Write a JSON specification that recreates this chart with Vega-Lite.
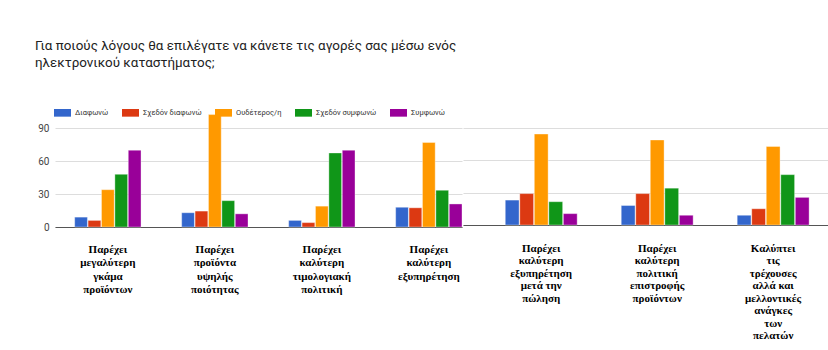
{
  "$schema": "https://vega.github.io/schema/vega-lite/v6.json",
  "padding": {"left": 0, "top": 38, "right": 0, "bottom": 0},
  "background": "white",
  "title": {
    "text": ["Για ποιούς λόγους θα επιλέγατε να κάνετε τις αγορές σας μέσω ενός", "ηλεκτρονικού καταστήματος;"],
    "anchor": "start", "frame": "group", "font": "Roboto", "fontSize": 13.4, "fontWeight": "normal",
    "color": "#222222", "lineHeight": 17, "offset": 35, "dx": -20
  },
  "datasets": {
    "left": [
      {"reason": "Παρέχει μεγαλύτερη γκάμα προϊόντων", "answer": "Διαφωνώ", "count": 9},
      {"reason": "Παρέχει μεγαλύτερη γκάμα προϊόντων", "answer": "Σχεδόν διαφωνώ", "count": 6},
      {"reason": "Παρέχει μεγαλύτερη γκάμα προϊόντων", "answer": "Ουδέτερος/η", "count": 34},
      {"reason": "Παρέχει μεγαλύτερη γκάμα προϊόντων", "answer": "Σχεδόν συμφωνώ", "count": 48},
      {"reason": "Παρέχει μεγαλύτερη γκάμα προϊόντων", "answer": "Συμφωνώ", "count": 70},
      {"reason": "Παρέχει προϊόντα υψηλής ποιότητας", "answer": "Διαφωνώ", "count": 13},
      {"reason": "Παρέχει προϊόντα υψηλής ποιότητας", "answer": "Σχεδόν διαφωνώ", "count": 14.5},
      {"reason": "Παρέχει προϊόντα υψηλής ποιότητας", "answer": "Ουδέτερος/η", "count": 102.5},
      {"reason": "Παρέχει προϊόντα υψηλής ποιότητας", "answer": "Σχεδόν συμφωνώ", "count": 24},
      {"reason": "Παρέχει προϊόντα υψηλής ποιότητας", "answer": "Συμφωνώ", "count": 12},
      {"reason": "Παρέχει καλύτερη τιμολογιακή πολιτική", "answer": "Διαφωνώ", "count": 6},
      {"reason": "Παρέχει καλύτερη τιμολογιακή πολιτική", "answer": "Σχεδόν διαφωνώ", "count": 4},
      {"reason": "Παρέχει καλύτερη τιμολογιακή πολιτική", "answer": "Ουδέτερος/η", "count": 19},
      {"reason": "Παρέχει καλύτερη τιμολογιακή πολιτική", "answer": "Σχεδόν συμφωνώ", "count": 67.5},
      {"reason": "Παρέχει καλύτερη τιμολογιακή πολιτική", "answer": "Συμφωνώ", "count": 70},
      {"reason": "Παρέχει καλύτερη εξυπηρέτηση", "answer": "Διαφωνώ", "count": 18},
      {"reason": "Παρέχει καλύτερη εξυπηρέτηση", "answer": "Σχεδόν διαφωνώ", "count": 17.5},
      {"reason": "Παρέχει καλύτερη εξυπηρέτηση", "answer": "Ουδέτερος/η", "count": 77},
      {"reason": "Παρέχει καλύτερη εξυπηρέτηση", "answer": "Σχεδόν συμφωνώ", "count": 33.5},
      {"reason": "Παρέχει καλύτερη εξυπηρέτηση", "answer": "Συμφωνώ", "count": 21}
    ],
    "right": [
      {"reason": "Παρέχει καλύτερη εξυπηρέτηση μετά την πώληση", "answer": "Διαφωνώ", "count": 23},
      {"reason": "Παρέχει καλύτερη εξυπηρέτηση μετά την πώληση", "answer": "Σχεδόν διαφωνώ", "count": 29},
      {"reason": "Παρέχει καλύτερη εξυπηρέτηση μετά την πώληση", "answer": "Ουδέτερος/η", "count": 84},
      {"reason": "Παρέχει καλύτερη εξυπηρέτηση μετά την πώληση", "answer": "Σχεδόν συμφωνώ", "count": 21.5},
      {"reason": "Παρέχει καλύτερη εξυπηρέτηση μετά την πώληση", "answer": "Συμφωνώ", "count": 10.5},
      {"reason": "Παρέχει καλύτερη πολιτική επιστροφής προϊόντων", "answer": "Διαφωνώ", "count": 18},
      {"reason": "Παρέχει καλύτερη πολιτική επιστροφής προϊόντων", "answer": "Σχεδόν διαφωνώ", "count": 29},
      {"reason": "Παρέχει καλύτερη πολιτική επιστροφής προϊόντων", "answer": "Ουδέτερος/η", "count": 78.5},
      {"reason": "Παρέχει καλύτερη πολιτική επιστροφής προϊόντων", "answer": "Σχεδόν συμφωνώ", "count": 34},
      {"reason": "Παρέχει καλύτερη πολιτική επιστροφής προϊόντων", "answer": "Συμφωνώ", "count": 9},
      {"reason": "Καλύπτει τις τρέχουσες αλλά και μελλοντικές ανάγκες των πελατών", "answer": "Διαφωνώ", "count": 9},
      {"reason": "Καλύπτει τις τρέχουσες αλλά και μελλοντικές ανάγκες των πελατών", "answer": "Σχεδόν διαφωνώ", "count": 15},
      {"reason": "Καλύπτει τις τρέχουσες αλλά και μελλοντικές ανάγκες των πελατών", "answer": "Ουδέτερος/η", "count": 72.5},
      {"reason": "Καλύπτει τις τρέχουσες αλλά και μελλοντικές ανάγκες των πελατών", "answer": "Σχεδόν συμφωνώ", "count": 46.5},
      {"reason": "Καλύπτει τις τρέχουσες αλλά και μελλοντικές ανάγκες των πελατών", "answer": "Συμφωνώ", "count": 25.5}
    ]
  },
  "spacing": 0,
  "hconcat": [
    {
      "data": {"name": "left"},
      "width": 407,
      "height": 113,
      "mark": {"type": "bar", "stroke": "white", "strokeWidth": 0.6, "strokeOpacity": 0.6},
      "encoding": {
        "x": {
          "field": "reason", "type": "nominal", "sort": null,
          "scale": {"paddingInner": 0.38, "paddingOuter": 0.092, "align": 1},
          "axis": {
            "title": null, "labelAngle": 0, "ticks": false, "domain": true, "domainColor": "#555555",
            "labelExpr": "split(replace(replace(datum.label, 'μετά την', 'μετά\u00a0την'), 'αλλά και', 'αλλά\u00a0και'), ' ')",
            "labelFont": "Liberation Serif", "labelFontWeight": "bold", "labelFontSize": 11,
            "labelColor": "#000000", "labelLineHeight": 13.5, "labelPadding": 16,
            "labelOverlap": false, "labelBound": false, "labelLimit": 0
          }
        },
        "xOffset": {
          "field": "answer", "type": "nominal",
          "scale": {"domain": ["Διαφωνώ", "Σχεδόν διαφωνώ", "Ουδέτερος/η", "Σχεδόν συμφωνώ", "Συμφωνώ"], "paddingInner": 0.05}
        },
        "y": {
          "field": "count", "type": "quantitative",
          "scale": {"domain": [0, 103], "nice": false, "zero": true},
          "axis": {
            "title": null, "values": [0, 30, 60, 90], "domain": false, "ticks": false,
            "labelPadding": 6, "minExtent": 55, "maxExtent": 55, "labelFont": "Roboto",
            "labelFontSize": 10, "labelColor": "#444444", "gridColor": "#dddddd"
          }
        },
        "color": {
          "field": "answer", "type": "nominal",
          "scale": {
            "domain": ["Διαφωνώ", "Σχεδόν διαφωνώ", "Ουδέτερος/η", "Σχεδόν συμφωνώ", "Συμφωνώ"],
            "range": ["#3366cc", "#dc3912", "#ff9900", "#109618", "#990099"]
          },
          "legend": {
            "title": null, "orient": "none", "direction": "horizontal", "columns": 5,
            "legendX": -1, "legendY": -10,
            "symbolType": "M-1,-0.45L1,-0.45L1,0.45L-1,0.45Z", "symbolSize": 289,
            "symbolStrokeWidth": 0, "labelFont": "Roboto", "labelFontSize": 7.5,
            "labelColor": "#333333", "labelOffset": 4, "columnPadding": 13
          }
        }
      }
    },
    {
      "data": {"name": "right"},
      "width": 366,
      "height": 111,
      "mark": {"type": "bar", "stroke": "white", "strokeWidth": 0.6, "strokeOpacity": 0.6},
      "encoding": {
        "x": {
          "field": "reason", "type": "nominal", "sort": null,
          "scale": {"paddingInner": 0.38, "paddingOuter": 0.268, "align": 0.68},
          "axis": {
            "title": null, "labelAngle": 0, "ticks": false, "domain": true, "domainColor": "#555555",
            "labelExpr": "split(replace(replace(datum.label, 'μετά την', 'μετά\u00a0την'), 'αλλά και', 'αλλά\u00a0και'), ' ')",
            "labelFont": "Liberation Serif", "labelFontWeight": "bold", "labelFontSize": 11,
            "labelColor": "#000000", "labelLineHeight": 12.5, "labelPadding": 17,
            "labelOverlap": false, "labelBound": false, "labelLimit": 0
          }
        },
        "xOffset": {
          "field": "answer", "type": "nominal",
          "scale": {"domain": ["Διαφωνώ", "Σχεδόν διαφωνώ", "Ουδέτερος/η", "Σχεδόν συμφωνώ", "Συμφωνώ"], "paddingInner": 0.05}
        },
        "y": {
          "field": "count", "type": "quantitative",
          "scale": {"domain": [0, 102.5], "nice": false, "zero": true},
          "axis": {
            "title": null, "values": [0, 30, 60, 90], "domain": false, "ticks": false,
            "labels": false, "minExtent": 0, "maxExtent": 0, "gridColor": "#dddddd"
          }
        },
        "color": {
          "field": "answer", "type": "nominal",
          "scale": {
            "domain": ["Διαφωνώ", "Σχεδόν διαφωνώ", "Ουδέτερος/η", "Σχεδόν συμφωνώ", "Συμφωνώ"],
            "range": ["#3366cc", "#dc3912", "#ff9900", "#109618", "#990099"]
          },
          "legend": null
        }
      }
    }
  ],
  "resolve": {"scale": {"y": "independent", "x": "independent", "xOffset": "independent"}},
  "config": {"view": {"stroke": null}}
}
